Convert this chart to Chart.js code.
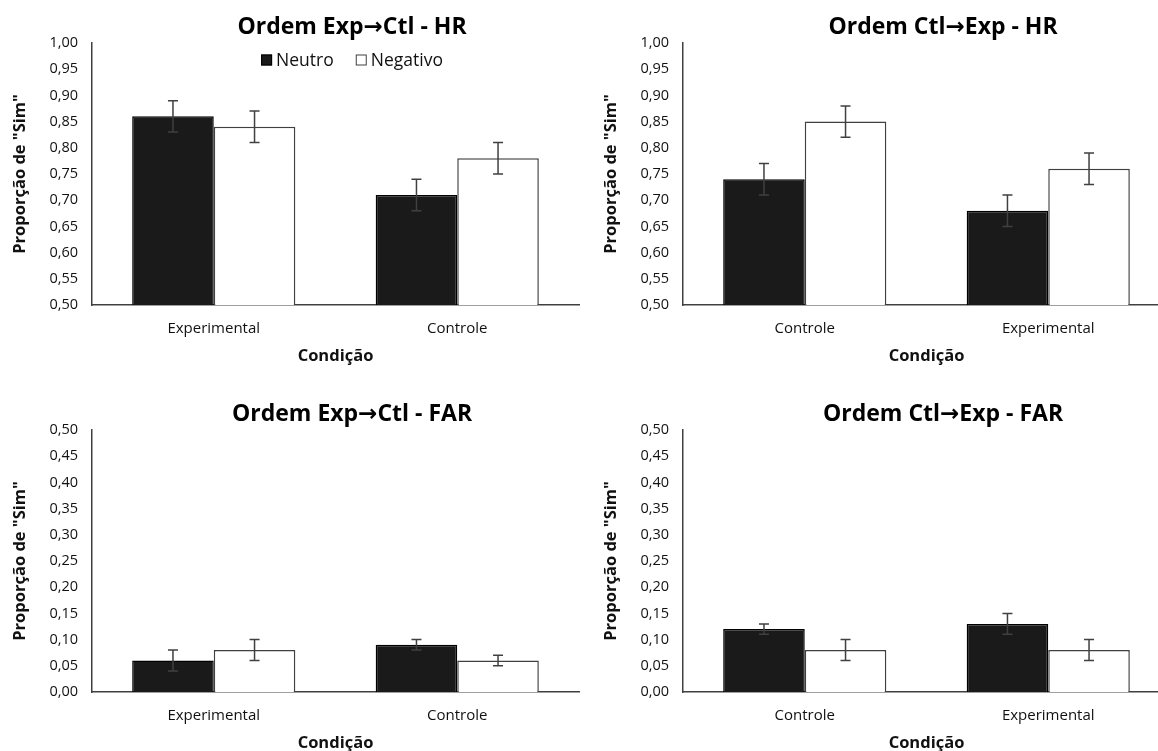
<!DOCTYPE html>
<html>
<head>
<meta charset="utf-8">
<script src="https://cdn.jsdelivr.net/npm/chart.js@4.4.1/dist/chart.umd.min.js"></script>
<style>
    html, body { margin: 0; padding: 0; overflow: hidden; background: #fff; width: 1158px; height: 751px; }
    canvas { position: absolute; }
</style>
</head>
<body>
<canvas id="hrExpCtl" width="704" height="380" style="left:0px; top:0px"></canvas>
<canvas id="hrCtlExp" width="704" height="380" style="left:591px; top:0px"></canvas>
<canvas id="farExpCtl" width="704" height="380" style="left:0px; top:387px"></canvas>
<canvas id="farCtlExp" width="704" height="380" style="left:591px; top:387px"></canvas>
<script>
// categories
const catsExpCtl = ['Experimental', 'Controle'];
const catsCtlExp = ['Controle', 'Experimental'];
const seriesNames = ['Neutro', 'Negativo'];

// HR, ordem Exp->Ctl
const hrExpCtlNeutro = [0.86, 0.71];
const hrExpCtlNegativo = [0.84, 0.78];
const hrExpCtlNeutroErr = [0.03, 0.03];
const hrExpCtlNegativoErr = [0.03, 0.03];

// HR, ordem Ctl->Exp
const hrCtlExpNeutro = [0.74, 0.68];
const hrCtlExpNegativo = [0.85, 0.76];
const hrCtlExpNeutroErr = [0.03, 0.03];
const hrCtlExpNegativoErr = [0.03, 0.03];

// FAR, ordem Exp->Ctl
const farExpCtlNeutro = [0.06, 0.09];
const farExpCtlNegativo = [0.08, 0.06];
const farExpCtlNeutroErr = [0.02, 0.01];
const farExpCtlNegativoErr = [0.02, 0.01];

// FAR, ordem Ctl->Exp
const farCtlExpNeutro = [0.12, 0.13];
const farCtlExpNegativo = [0.08, 0.08];
const farCtlExpNeutroErr = [0.01, 0.02];
const farCtlExpNegativoErr = [0.02, 0.02];

// y tick labels
const hrTicks = [0.50, 0.55, 0.60, 0.65, 0.70, 0.75, 0.80, 0.85, 0.90, 0.95, 1.00];
const farTicks = [0.00, 0.05, 0.10, 0.15, 0.20, 0.25, 0.30, 0.35, 0.40, 0.45, 0.50];

const FONT = "'Open Sans', 'DejaVu Sans', sans-serif";
const TEXT = '#111';
const AXIS = '#404040';

// vertical error bars with caps, drawn from the y scale
const errorBars = {
    id: 'errorBars',
    afterDatasetsDraw(chart) {
        const ctx = chart.ctx;
        const y = chart.scales.y;
        ctx.save();
        ctx.strokeStyle = AXIS;
        ctx.lineWidth = 1.5;
        chart.data.datasets.forEach((ds, i) => {
            const meta = chart.getDatasetMeta(i);
            meta.data.forEach((bar, j) => {
                const v = ds.data[j];
                const e = ds.errors[j];
                const top = y.getPixelForValue(v + e);
                const bot = y.getPixelForValue(v - e);
                ctx.beginPath();
                ctx.moveTo(bar.x, top);
                ctx.lineTo(bar.x, bot);
                ctx.moveTo(bar.x - 5, top);
                ctx.lineTo(bar.x + 5, top);
                ctx.moveTo(bar.x - 5, bot);
                ctx.lineTo(bar.x + 5, bot);
                ctx.stroke();
            });
        });
        ctx.restore();
    }
};

// small legend placed inside the plot, under the title
const innerLegend = {
    id: 'innerLegend',
    afterDraw(chart, args, opts) {
        if (!opts.show) return;
        const ctx = chart.ctx;
        ctx.save();
        ctx.font = "17.5px " + FONT;
        ctx.textBaseline = 'middle';
        const box = 11, gap = 4, spacing = 22;
        const items = chart.data.datasets.map(ds => ({
            label: ds.label, fill: ds.backgroundColor, stroke: ds.borderColor,
            w: box + gap + ctx.measureText(ds.label).width
        }));
        const total = items.reduce((s, it) => s + it.w, 0) + spacing * (items.length - 1);
        let x = chart.width / 2 - total / 2;
        const cy = 60;
        items.forEach(it => {
            ctx.fillStyle = it.fill;
            ctx.fillRect(x, cy - box / 2, box, box);
            ctx.strokeStyle = it.stroke;
            ctx.lineWidth = 1;
            ctx.strokeRect(x + 0.5, cy - box / 2 + 0.5, box - 1, box - 1);
            ctx.fillStyle = TEXT;
            ctx.fillText(it.label, x + box + gap, cy + 1);
            x += it.w + spacing;
        });
        ctx.restore();
    }
};

function makeChart(id, title, cats, neutro, negativo, neutroErr, negativoErr, ticks, showLegend) {
    const ctx = document.getElementById(id).getContext('2d');
    return new Chart(ctx, {
        type: 'bar',
        data: {
            labels: cats,
            datasets: [{
                label: seriesNames[0],
                data: neutro,
                errors: neutroErr,
                backgroundColor: '#1a1a1a',
                borderColor: '#000',
                borderWidth: 1.5
            }, {
                label: seriesNames[1],
                data: negativo,
                errors: negativoErr,
                backgroundColor: '#ffffff',
                borderColor: AXIS,
                borderWidth: 1.5
            }]
        },
        options: {
            responsive: false,
            animation: false,
            datasets: {
                bar: { categoryPercentage: 0.67, barPercentage: 1.0 }
            },
            layout: { padding: 0 },
            plugins: {
                legend: { display: false },
                tooltip: { enabled: false },
                innerLegend: { show: showLegend },
                title: {
                    display: true,
                    text: title,
                    color: '#000',
                    font: { family: FONT, size: 23, weight: 'bold' },
                    padding: { top: 14, bottom: 1.4 }
                }
            },
            scales: {
                x: {
                    grid: { display: false, drawTicks: false },
                    border: { display: true, color: AXIS, width: 1.5 },
                    ticks: { color: TEXT, padding: 15, font: { family: FONT, size: 15 } },
                    title: {
                        display: true,
                        text: 'Condição',
                        color: TEXT,
                        font: { family: FONT, size: 16.5, weight: 'bold' },
                        padding: { top: 0, bottom: 14 }
                    },
                    afterFit: s => { s.height = 75; }
                },
                y: {
                    min: ticks[0],
                    max: ticks[ticks.length - 1],
                    grid: { display: false, drawTicks: false },
                    border: { display: true, color: AXIS, width: 1.5 },
                    afterBuildTicks: s => { s.ticks = ticks.map(v => ({ value: v })); },
                    ticks: {
                        color: TEXT,
                        padding: 14,
                        font: { family: FONT, size: 14.5 },
                        callback: v => v.toFixed(2).replace('.', ',')
                    },
                    title: {
                        display: true,
                        text: 'Proporção de "Sim"',
                        color: TEXT,
                        font: { family: FONT, size: 16.5, weight: 'bold' },
                        padding: { top: 10, bottom: 0 }
                    },
                    afterFit: s => { s.width = 92; }
                },
                // empty space on the right so the title sits where it does in the original
                pad: {
                    position: 'right',
                    grid: { display: false, drawTicks: false },
                    border: { display: false },
                    ticks: { display: false },
                    afterFit: s => { s.width = 125; }
                }
            }
        },
        plugins: [errorBars, innerLegend]
    });
}

makeChart('hrExpCtl', 'Ordem Exp→Ctl - HR', catsExpCtl,
    hrExpCtlNeutro, hrExpCtlNegativo, hrExpCtlNeutroErr, hrExpCtlNegativoErr, hrTicks, true);
makeChart('hrCtlExp', 'Ordem Ctl→Exp - HR', catsCtlExp,
    hrCtlExpNeutro, hrCtlExpNegativo, hrCtlExpNeutroErr, hrCtlExpNegativoErr, hrTicks, false);
makeChart('farExpCtl', 'Ordem Exp→Ctl - FAR', catsExpCtl,
    farExpCtlNeutro, farExpCtlNegativo, farExpCtlNeutroErr, farExpCtlNegativoErr, farTicks, false);
makeChart('farCtlExp', 'Ordem Ctl→Exp - FAR', catsCtlExp,
    farCtlExpNeutro, farCtlExpNegativo, farCtlExpNeutroErr, farCtlExpNegativoErr, farTicks, false);
</script>
</body>
</html>
